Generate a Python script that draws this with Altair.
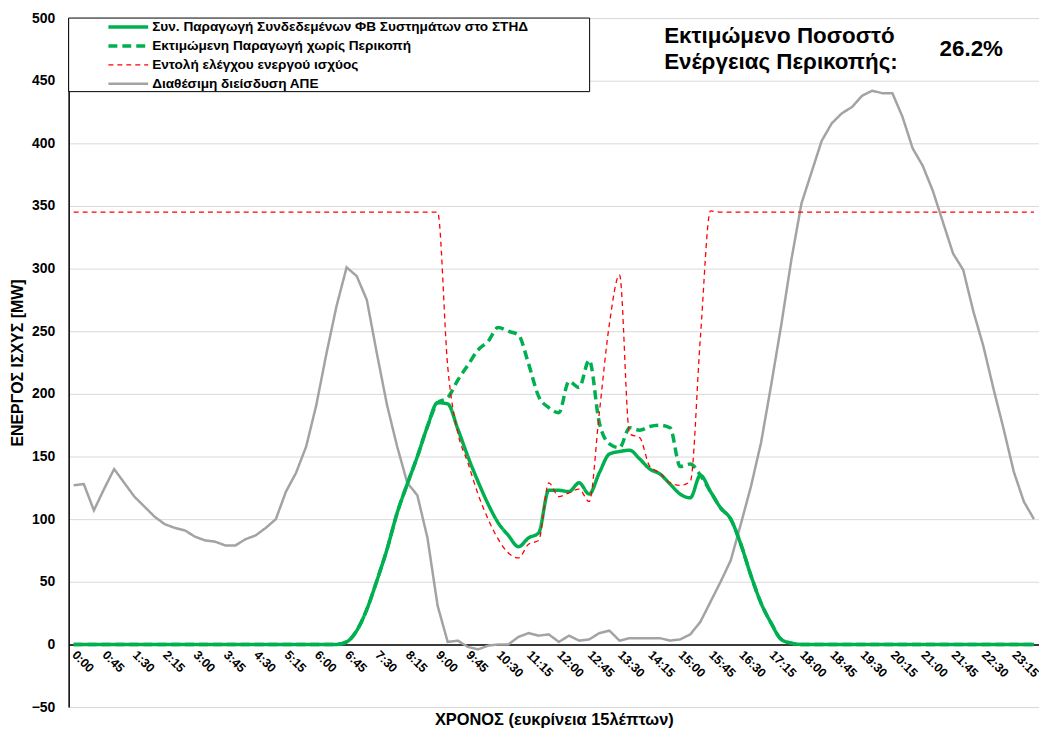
import altair as alt
import pandas as pd
import json

# ---------------- data ----------------
times = [f"{h}:{m:02d}" for h in range(24) for m in (0, 15, 30, 45)]

series_names = [
    "Συν. Παραγωγή Συνδεδεμένων ΦΒ Συστημάτων στο ΣΤΗΔ",
    "Εκτιμώμενη Παραγωγή χωρίς Περικοπή",
    "Εντολή ελέγχου ενεργού ισχύος",
    "Διαθέσιμη διείσδυση ΑΠΕ",
]

pv_actual = [0] * 27 + [
    2, 11, 28, 51, 76, 105, 128, 150, 174, 193,
    192, 172, 150, 130, 112, 97, 87, 78, 85, 89,
    123, 123, 122, 129, 120, 137, 152, 154, 155, 148,
    140, 136, 128, 120, 117, 135, 122, 109, 100, 80,
    55, 33, 17, 4, 1,
] + [0] * 24

pv_estimated = [0] * 27 + [
    2, 11, 28, 51, 76, 105, 128, 150, 174, 193,
    197, 211, 223, 235, 242, 253, 250, 247, 224, 198,
    189, 185, 210, 205, 227, 177, 160, 157, 173, 171,
    174, 175, 173, 142, 144, 135, 122, 109, 100, 80,
    55, 33, 17, 4, 1,
] + [0] * 24

control_cmd = [345] * 37 + [
    222, 169, 145, 120, 100, 84, 73, 69, 80, 83,
    129, 118, 121, 124, 114, 185, 256, 295, 168, 165,
    142, 137, 129, 127, 130, 245, 346,
] + [345] * 32

res_available = [
    127, 128, 107, 124, 140, 129, 118, 110, 102, 96,
    93, 91, 86, 83, 82, 79, 79, 84, 87, 93,
    100, 122, 137, 158, 191, 232, 270, 301, 294, 275,
    232, 191, 158, 129, 119, 85, 31, 2, 3, -2,
    -4, -1, 0, 0, 6, 9, 7, 8, 2, 7,
    3, 4, 9, 11, 3, 5, 5, 5, 5, 3,
    4, 8, 18, 34, 50, 67, 96, 126, 161, 207,
    255, 307, 352, 377, 402, 416, 424, 429, 438, 442,
    440, 440, 421, 396, 382, 362, 337, 312, 299, 266,
    238, 204, 172, 138, 114, 100,
]

y_ticks = list(range(-50, 501, 50))
x_tick_idx = list(range(0, 96, 3))

annotation_lines = ["Εκτιμώμενο Ποσοστό", "Ενέργειας Περικοπής:"]
annotation_value = "26.2%"
x_title = "ΧΡΟΝΟΣ (ευκρίνεια 15λέπτων)"
y_title = "ΕΝΕΡΓΟΣ ΙΣΧΥΣ [MW]"

# ---------------- table ----------------
rows = []
for name, vals in zip(series_names, [pv_actual, pv_estimated, control_cmd, res_available]):
    for i, v in enumerate(vals):
        rows.append({"i": i, "t": times[i], "value": v, "series": name})
df = pd.DataFrame(rows)

FONT = "Liberation Sans"
W, H = 976, 693

colors = ["#00B050", "#00B050", "#FF0000", "#A3A3A3"]
dashes = [[1, 0], [9, 5], [5, 4], [1, 0]]
widths = [3.5, 3.5, 1.3, 2.5]

legend = alt.Legend(
    orient="none", legendX=38, legendY=2, title=None,
    symbolType="stroke", symbolSize=1600, clipHeight=14,
    labelFont=FONT, labelFontSize=13.7, labelFontWeight="bold", labelColor="black",
    labelOffset=2, rowPadding=5, labelLimit=0, padding=0,
)

label_expr = "%s[datum.value]" % json.dumps(times, ensure_ascii=False)

x_enc = alt.X(
    "i:Q",
    scale=alt.Scale(domain=[-0.5, 95.5], nice=False, zero=False),
    axis=alt.Axis(
        values=x_tick_idx, labelExpr=label_expr, labelAngle=45,
        labelAlign="left", labelBaseline="middle", labelPadding=8,
        labelFont=FONT, labelFontSize=12.5, labelFontWeight="bold", labelColor="black",
        labelOverlap=False, labelFlush=False, labelBound=False,
        ticks=False, grid=False, domainColor="black", domainWidth=1.5,
        offset=-63, title=x_title, titleFont=FONT, titleFontSize=16.5,
        titleFontWeight="bold", titleColor="black", titleY=76, titleBaseline="middle",
    ),
)
y_enc = alt.Y(
    "value:Q",
    scale=alt.Scale(domain=[-50, 500], nice=False, zero=False),
    axis=alt.Axis(
        values=y_ticks, labelFont=FONT, labelFontSize=14, labelFontWeight="bold",
        labelColor="black", labelPadding=14, ticks=False,
        grid=True, gridColor="#d9d9d9", gridWidth=1,
        domainColor="black", domainWidth=1.5,
        title=y_title, titleFont=FONT, titleFontSize=16, titleFontWeight="bold",
        titleColor="black", titleX=-51, titleBaseline="middle",
    ),
)

base = alt.Chart(df).encode(
    x=x_enc,
    y=y_enc,
    color=alt.Color("series:N", scale=alt.Scale(domain=series_names, range=colors), legend=legend),
    strokeDash=alt.StrokeDash("series:N", scale=alt.Scale(domain=series_names, range=dashes), legend=legend),
    strokeWidth=alt.StrokeWidth("series:N", scale=alt.Scale(type="ordinal", domain=series_names, range=widths), legend=legend),
)

def series_layer(name, interp):
    return base.transform_filter(alt.datum.series == name).mark_line(interpolate=interp)

box = alt.Chart(alt.Data(values=[{"a": 1}])).mark_rect(
    fill="white", stroke="black", strokeWidth=1
).encode(x=alt.value(0), x2=alt.value(524), y=alt.value(0), y2=alt.value(74))

def ann_text(txt, xv, yv):
    return alt.Chart(alt.Data(values=[{"txt": txt}])).mark_text(
        font=FONT, fontSize=22.5, fontWeight="bold", align="left", baseline="middle", color="black"
    ).encode(text="txt:N", x=alt.value(xv), y=alt.value(yv))

chart = alt.layer(
    series_layer(series_names[3], "linear"),
    series_layer(series_names[1], "monotone"),
    series_layer(series_names[0], "monotone"),
    series_layer(series_names[2], "monotone"),
    box,
    ann_text(annotation_lines[0], 599, 18),
    ann_text(annotation_lines[1], 599, 44),
    ann_text(annotation_value, 876, 31),
).properties(
    width=W, height=H,
    autosize=alt.AutoSizeParams(type="none"),
    padding={"left": 61, "top": 8, "right": 0, "bottom": 26},
).configure_view(
    stroke="black", strokeWidth=1.5
).configure(background="white")

chart.save("out.html", embed_options={"renderer": "svg", "actions": False})
